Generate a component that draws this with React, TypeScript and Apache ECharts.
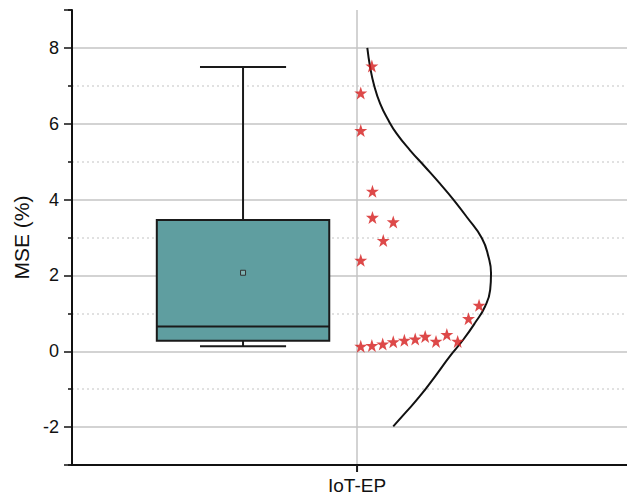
import React, { useEffect, useRef } from "react";
import * as echarts from "echarts";

// ---- data ----
const categoryLabel = "IoT-EP";
const categoryX = [1];
const yRange = [-3, 9];
const xRange = [0, 1.947];

// box position and stats: [min, q1, median, q3, max, mean]
const boxPosition = [0.6];
const boxStats = [0.13, 0.28, 0.65, 3.46, 7.5, 2.07];
const boxWidth = 0.605;
const capWidth = 0.302;

const starX = [1.052, 1.013, 1.013, 1.054, 1.054, 1.127, 1.092, 1.013, 1.013, 1.052, 1.09, 1.127, 1.166, 1.204, 1.239, 1.277, 1.315, 1.353, 1.391, 1.428];
const starY = [7.52, 6.81, 5.82, 4.22, 3.53, 3.41, 2.92, 2.4, 0.13, 0.15, 0.19, 0.25, 0.29, 0.32, 0.39, 0.26, 0.44, 0.26, 0.86, 1.21];

const curveX = [1.036, 1.046, 1.06, 1.081, 1.11, 1.139, 1.186, 1.239, 1.291, 1.338, 1.385, 1.438, 1.461, 1.47, 1.467, 1.449, 1.414, 1.373, 1.326, 1.274, 1.221, 1.17, 1.127];
const curveY = [8.0, 7.49, 7.01, 6.53, 6.09, 5.74, 5.3, 4.86, 4.42, 4.0, 3.54, 2.98, 2.49, 2.06, 1.62, 1.18, 0.75, 0.31, -0.13, -0.66, -1.18, -1.62, -1.98];

const STAR = "path://M12,0 L14.9,8.6 L24,8.6 L16.7,14 L19.4,22.8 L12,17.5 L4.6,22.8 L7.3,14 L0,8.6 L9.1,8.6 Z";
const FONT = "'Liberation Sans', Arial, sans-serif";

export default function App() {
  const ref = useRef<HTMLDivElement>(null);
  useEffect(() => {
    document.body.style.margin = "0";
    const chart = echarts.init(ref.current!, undefined, { renderer: "svg" });
    const boxData = [[boxPosition[0], ...boxStats]];
    chart.setOption({
      animation: false,
      backgroundColor: "#ffffff",
      grid: { left: 72, right: 0, top: 10, bottom: 34, outerBoundsMode: "none", containLabel: false },
      xAxis: {
        type: "value",
        min: xRange[0],
        max: xRange[1],
        interval: 1,
        axisLine: { show: true, onZero: false, lineStyle: { color: "#111", width: 2 } },
        axisTick: { show: false },
        axisLabel: {
          formatter: (v: number) => (Math.abs(v - categoryX[0]) < 1e-6 ? categoryLabel : ""),
          fontFamily: FONT,
          fontSize: 19,
          color: "#111",
          margin: 11,
        },
        splitLine: {
          show: true,
          lineStyle: { color: ["transparent", "#c4c4c4", "transparent"], width: 1.5 },
        },
      },
      yAxis: [
        {
          type: "value",
          position: "left",
          offset: 0,
          min: yRange[0],
          max: yRange[1],
          interval: 2,
          axisLine: { show: false },
          axisTick: { show: true, length: 4, lineStyle: { color: "#111", width: 1.5 } },
          axisLabel: { show: false },
          splitLine: {
            show: true,
            lineStyle: {
              type: [2, 3],
              width: 1.5,
              color: ["transparent", "#d8d8d8", "#d8d8d8", "#d8d8d8", "#d8d8d8", "#d8d8d8", "transparent"],
            },
          },
        },
        {
          type: "value",
          position: "left",
          offset: 0,
          min: yRange[0],
          max: yRange[1],
          splitNumber: 6,
          name: "MSE (%)",
          nameLocation: "middle",
          nameGap: 37,
          nameTextStyle: { fontFamily: FONT, fontSize: 21, color: "#111" },
          axisLine: { show: true, onZero: false, lineStyle: { color: "#111", width: 2 } },
          axisTick: { show: true, length: 8, lineStyle: { color: "#111", width: 1.5 } },
          axisLabel: {
            formatter: (v: number) => (Math.round(v) % 2 === 0 ? String(v) : ""),
            fontFamily: FONT,
            fontSize: 18,
            color: "#111",
            margin: 13,
          },
          splitLine: {
            show: true,
            lineStyle: {
              width: 1.5,
              color: ["transparent", "#c4c4c4", "#c4c4c4", "#c4c4c4", "#c4c4c4", "#c4c4c4", "#c4c4c4", "transparent"],
            },
          },
        },
      ],
      series: [
        {
          type: "custom",
          xAxisIndex: 0,
          yAxisIndex: 0,
          clip: false,
          data: boxData,
          renderItem: (_p: any, api: any) => {
            const x = api.value(0);
            const mn = api.value(1), q1 = api.value(2), med = api.value(3), q3 = api.value(4), mx = api.value(5), mean = api.value(6);
            const hb = boxWidth / 2, hc = capWidth / 2;
            const tl = api.coord([x - hb, q3]);
            const br = api.coord([x + hb, q1]);
            const stroke = { stroke: "#1a1a1a", lineWidth: 2, fill: "none" };
            const cx = api.coord([x, 0])[0];
            const pMax = api.coord([x, mx]);
            const pMin = api.coord([x, mn]);
            const capL = api.coord([x - hc, mx])[0], capR = api.coord([x + hc, mx])[0];
            const medY = api.coord([x, med])[1];
            const mp = api.coord([x, mean]);
            const tick = api.coord([categoryX[0], yRange[0]]);
            return {
              type: "group",
              children: [
                { type: "line", shape: { x1: cx, y1: pMax[1], x2: cx, y2: tl[1] }, style: stroke },
                { type: "line", shape: { x1: capL, y1: pMax[1], x2: capR, y2: pMax[1] }, style: stroke },
                { type: "line", shape: { x1: cx, y1: pMin[1], x2: cx, y2: br[1] }, style: stroke },
                { type: "line", shape: { x1: capL, y1: pMin[1], x2: capR, y2: pMin[1] }, style: stroke },
                {
                  type: "rect",
                  shape: { x: tl[0], y: tl[1], width: br[0] - tl[0], height: br[1] - tl[1] },
                  style: { fill: "#5f9ea0", stroke: "#1a1a1a", lineWidth: 2 },
                },
                { type: "line", shape: { x1: tl[0], y1: medY, x2: br[0], y2: medY }, style: stroke },
                {
                  type: "rect",
                  shape: { x: mp[0] - 2.5, y: mp[1] - 2.5, width: 5, height: 5 },
                  style: { fill: "#7fb3b3", stroke: "#333", lineWidth: 1 },
                },
                { type: "line", shape: { x1: tick[0], y1: tick[1], x2: tick[0], y2: tick[1] + 7 }, style: stroke },
              ],
            };
          },
        },
        {
          type: "line",
          xAxisIndex: 0,
          yAxisIndex: 0,
          data: curveX.map((x, i) => [x, curveY[i]]),
          smooth: 0.5,
          showSymbol: false,
          lineStyle: { color: "#111", width: 2 },
          z: 3,
        },
        {
          type: "scatter",
          xAxisIndex: 0,
          yAxisIndex: 0,
          data: starX.map((x, i) => [x, starY[i]]),
          symbol: STAR,
          symbolSize: 13,
          itemStyle: { color: "#d41c1c" },
          z: 4,
        },
      ],
    });
    return () => chart.dispose();
  }, []);
  return <div ref={ref} style={{ width: 627, height: 499 }} />;
}
